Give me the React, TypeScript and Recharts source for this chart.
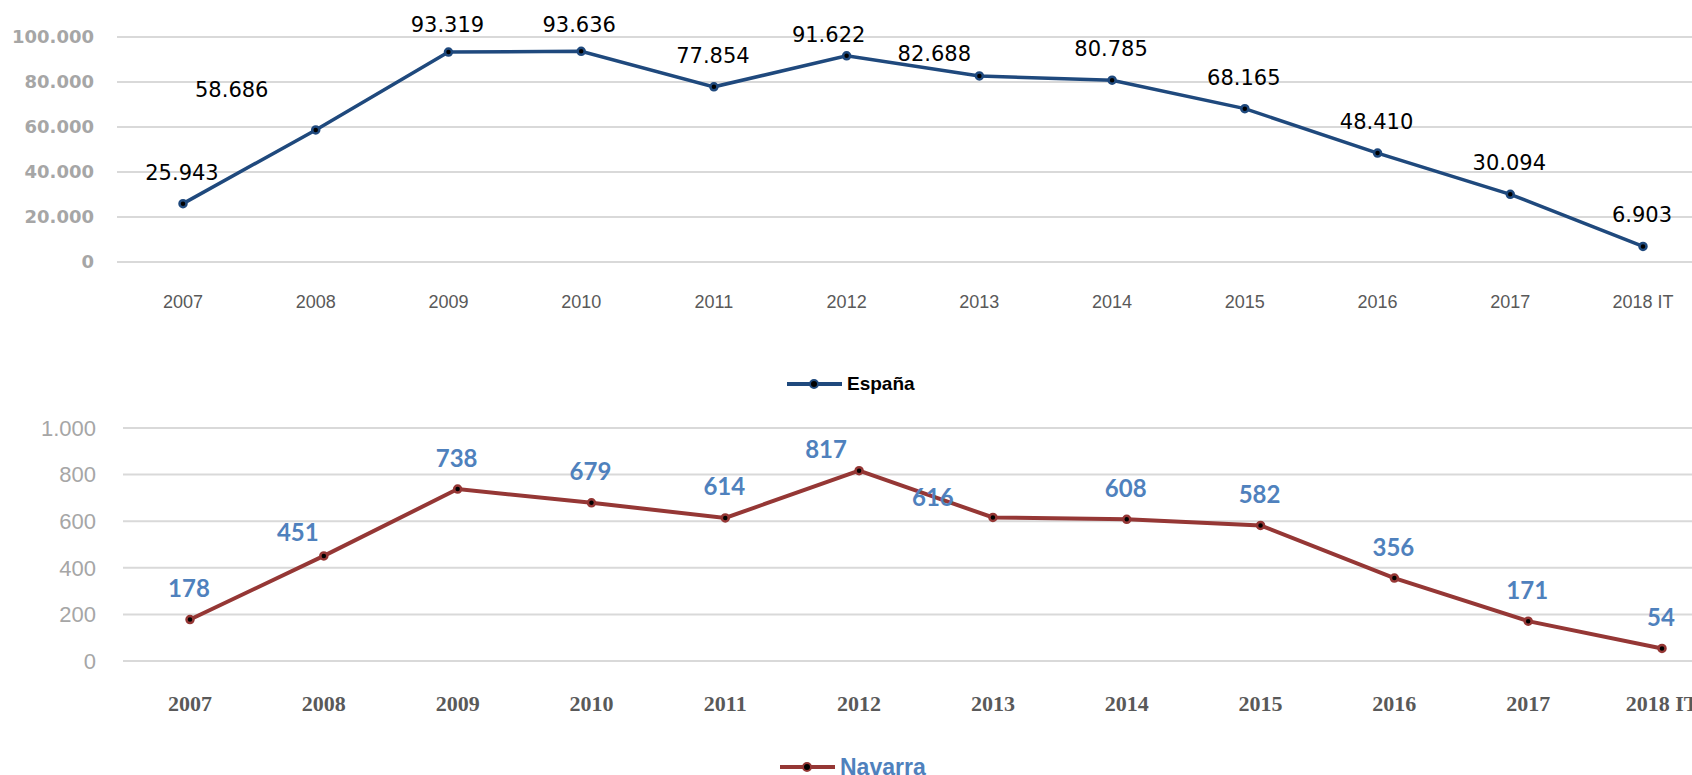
import { LineChart, Line, XAxis, YAxis, CartesianGrid, LabelList, Legend } from 'recharts'

const years = ['2007', '2008', '2009', '2010', '2011', '2012', '2013', '2014', '2015', '2016', '2017', '2018 IT']
const espana = [25943, 58686, 93319, 93636, 77854, 91622, 82688, 80785, 68165, 48410, 30094, 6903]
const navarra = [178, 451, 738, 679, 614, 817, 616, 608, 582, 356, 171, 54]
const espanaTicks = [0, 20000, 40000, 60000, 80000, 100000]
const navarraTicks = [0, 200, 400, 600, 800, 1000]

const espanaData = years.map((year, i) => ({ year, value: espana[i] }))
const navarraData = years.map((year, i) => ({ year, value: navarra[i] }))

const ESPANA_COLOR = '#1F497D'
const NAVARRA_COLOR = '#953735'
const LABEL_BLUE = '#4F81BD'

// hand-moved labels in the original, everything else sits above its point
const espanaNudge: Record<number, [number, number]> = {
  1: [-84, -40],
  2: [-1, -27],
  3: [-2, -26],
  5: [-18, -21],
  6: [-45, -22],
}
const navarraNudge: Record<number, [number, number]> = {
  1: [-26, -24],
  5: [-33, -22],
  6: [-60, -21],
}

const fmt = (n: number) => String(n).replace(/\B(?=(\d{3})+(?!\d))/g, '.')

function makeLabel(nudge: Record<number, [number, number]>, def: [number, number], style: any) {
  return (props: any) => {
    const { x, y, value, index } = props
    const [dx, dy] = nudge[index] ?? def
    return (
      <text x={x + dx} y={y + dy} textAnchor="middle" dominantBaseline="central" {...style}>
        {fmt(value)}
      </text>
    )
  }
}

function makeLegend(textStyle: React.CSSProperties) {
  return (props: any) => {
    const item = props.payload?.[0]
    if (!item) return null
    return (
      <div style={{ display: 'flex', alignItems: 'center', height: 24 }}>
        <svg width={55} height={24}>
          <line x1={0} y1={12} x2={55} y2={12} stroke={item.color} strokeWidth={4} />
          <circle cx={27} cy={12} r={4} fill="#000" stroke={item.color} strokeWidth={2} />
        </svg>
        <span style={{ marginLeft: 5, lineHeight: '24px', ...textStyle }}>{item.value}</span>
      </div>
    )
  }
}

export default function App() {
  return (
    <div
      style={{
        position: 'absolute',
        left: 0,
        top: 0,
        width: 1692,
        height: 775,
        overflow: 'hidden',
        background: '#fff',
      }}
    >
      <div style={{ position: 'absolute', left: 0, top: 0 }}>
        <LineChart width={1709} height={410} data={espanaData} margin={{ top: 37, right: 0, bottom: 88, left: 0 }}>
          <CartesianGrid vertical={false} stroke="#d9d9d9" strokeWidth={2} />
          <XAxis
            dataKey="year"
            interval={0}
            padding={{ left: 66, right: 66 }}
            axisLine={false}
            tickLine={false}
            tickSize={0}
            tickMargin={33}
            height={60}
            tick={{ fill: '#595959', fontSize: 18, fontFamily: 'Liberation Sans' }}
          />
          <YAxis
            width={117}
            domain={[0, 100000]}
            ticks={espanaTicks}
            tickFormatter={fmt}
            axisLine={false}
            tickLine={false}
            tickSize={0}
            tickMargin={23}
            tick={{ fill: '#a6a6a6', fontSize: 18, fontFamily: 'DejaVu Sans', fontWeight: 'bold' }}
          />
          <Legend
            layout="horizontal"
            verticalAlign="middle"
            align="center"
            wrapperStyle={{ left: 787, top: 372, width: 'auto' }}
            content={makeLegend({ fontFamily: 'Liberation Sans', fontWeight: 'bold', fontSize: 19, color: '#000' })}
          />
          <Line
            type="linear"
            dataKey="value"
            name="España"
            stroke={ESPANA_COLOR}
            strokeWidth={3.5}
            dot={{ r: 3.5, fill: '#000', stroke: ESPANA_COLOR, strokeWidth: 2.5 }}
            activeDot={false}
            isAnimationActive={false}
          >
            <LabelList
              dataKey="value"
              content={makeLabel(espanaNudge, [-1, -31], {
                fill: '#000',
                fontSize: 21,
                fontFamily: 'DejaVu Sans',
              })}
            />
          </Line>
        </LineChart>
      </div>
      <div style={{ position: 'absolute', left: 0, top: 410 }}>
        <LineChart width={1729} height={365} data={navarraData} margin={{ top: 18, right: 0, bottom: 54, left: 0 }}>
          <CartesianGrid vertical={false} stroke="#d9d9d9" strokeWidth={2} />
          <XAxis
            dataKey="year"
            interval={0}
            padding={{ left: 67, right: 67 }}
            axisLine={false}
            tickLine={false}
            tickSize={0}
            tickMargin={34}
            height={60}
            tick={{ fill: '#595959', fontSize: 22, fontFamily: 'Liberation Serif', fontWeight: 'bold' }}
          />
          <YAxis
            width={123}
            domain={[0, 1000]}
            ticks={navarraTicks}
            tickFormatter={fmt}
            axisLine={false}
            tickLine={false}
            tickSize={0}
            tickMargin={27}
            tick={{ fill: '#a6a6a6', fontSize: 22, fontFamily: 'Liberation Sans' }}
          />
          <Legend
            layout="horizontal"
            verticalAlign="middle"
            align="center"
            wrapperStyle={{ left: 780, top: 345, width: 'auto' }}
            content={makeLegend({ fontFamily: 'Liberation Sans', fontWeight: 'bold', fontSize: 23, color: LABEL_BLUE })}
          />
          <Line
            type="linear"
            dataKey="value"
            name="Navarra"
            stroke={NAVARRA_COLOR}
            strokeWidth={4}
            dot={{ r: 3.5, fill: '#000', stroke: NAVARRA_COLOR, strokeWidth: 2.5 }}
            activeDot={false}
            isAnimationActive={false}
          >
            <LabelList
              dataKey="value"
              content={makeLabel(navarraNudge, [-1, -32], {
                fill: LABEL_BLUE,
                fontSize: 24,
                fontFamily: 'Lato',
                fontWeight: 'bold',
              })}
            />
          </Line>
        </LineChart>
      </div>
    </div>
  )
}
